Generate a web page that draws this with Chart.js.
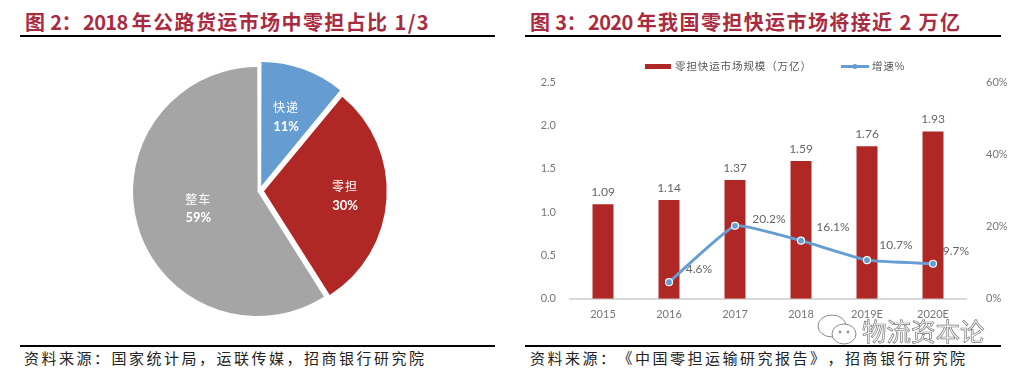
<!DOCTYPE html>
<html><head><meta charset="utf-8">
<script src="https://cdn.jsdelivr.net/npm/chart.js@4"></script>
<style>
html,body{margin:0;padding:0;background:#fff;width:1021px;height:378px;overflow:hidden;font-family:"Noto Sans CJK SC",sans-serif}
.t{position:absolute;white-space:nowrap;text-spacing-trim:space-all;font-kerning:none}
.title{top:8px;font:bold 20px "Noto Sans CJK SC",sans-serif;line-height:28px;color:#a92b40;letter-spacing:1.4px}
.title span{letter-spacing:-.6px}
.src{top:348px;font-size:15px;color:#222;letter-spacing:2.5px;line-height:20px}
.rule{position:absolute;height:2px;background:#000}
canvas{position:absolute}
#wm{position:absolute;left:862px;top:315px;font-size:24.5px;line-height:32px;color:#fff;-webkit-text-stroke:.7px #777}
</style></head><body>
<div class="t title" style="left:25px">图<span> 2</span>：<span>2018 </span>年公路货运市场中零担占比 1/3</div>
<div class="rule" style="left:20px;top:35px;width:475px"></div>
<div class="t title" style="left:530px">图<span> 3</span>：<span>2020 </span>年我国零担快运市场将接近 2 万亿</div>
<div class="rule" style="left:525px;top:35px;width:476px"></div>
<div style="position:absolute;left:0;top:40px;width:510px;height:300px"><canvas id="pie"></canvas></div>
<div style="position:absolute;left:510px;top:40px;width:511px;height:300px"><canvas id="mix"></canvas></div>
<div class="rule" style="left:20px;top:345px;width:475px"></div>
<div class="t src" style="left:24px">资料来源：国家统计局，运联传媒，招商银行研究院</div>
<div class="rule" style="left:525px;top:345px;width:476px"></div>
<div class="t src" style="left:530px">资料来源：《中国零担运输研究报告》，招商银行研究院</div>
<svg style="position:absolute;left:815px;top:312px" width="48" height="36" fill="#fff" stroke="#888" stroke-width="1">
<ellipse cx="17" cy="14" rx="14" ry="11"/><ellipse cx="29" cy="22" rx="12" ry="10"/>
<circle cx="25" cy="20" r="1" fill="#888"/><circle cx="33" cy="20" r="1" fill="#888"/>
</svg>
<div id="wm">物流资本论</div>
<script>
const pieLabels=['快递','零担','整车'];
const pieValues=[11,30,59];
const pieColors=['#659dd2','#b02825','#a5a5a5'];
const years=['2015','2016','2017','2018','2019E','2020E'];
const scaleValues=[1.09,1.14,1.37,1.59,1.76,1.93];
const growthValues=[null,4.6,20.2,16.1,10.7,9.7];
const growthText=[null,'4.6%','20.2%','16.1%','10.7%','9.7%'];
const barName='零担快运市场规模（万亿）';
const lineName='增速%';
const leftTicks=[0,0.5,1,1.5,2,2.5];
const rightTicks=[0,20,40,60];
const FONT='"Noto Sans CJK SC",sans-serif';
const TICK='Lato,"Open Sans",sans-serif';
const GREY='#767676';

new Chart(document.getElementById('pie'),{
 type:'pie',
 data:{labels:pieLabels,datasets:[{data:pieValues,backgroundColor:pieColors,borderWidth:0,offset:[20,18,8]}]},
 options:{responsive:true,maintainAspectRatio:false,animation:false,radius:122.5,
  layout:{padding:{left:126,right:117,top:17,bottom:15}},
  plugins:{legend:{display:false},tooltip:{enabled:false}}},
 plugins:[{id:'pl',afterDatasetsDraw(c){
  const g=c.ctx,m=c.getDatasetMeta(0),k=[0.64,0.70,0.52];
  g.save();g.fillStyle='#fff';g.textAlign='center';g.textBaseline='middle';
  m.data.forEach((a,i)=>{
   const an=(a.startAngle+a.endAngle)/2,r=a.outerRadius*k[i];
   const x=a.x+Math.cos(an)*r,y=a.y+Math.sin(an)*r;
   g.font='12px '+FONT;g.letterSpacing='1px';g.fillText(pieLabels[i],x,y-9.5);
   g.font='bold 13px '+TICK;g.letterSpacing='0px';g.fillText(pieValues[i]+'%',x,y+9.5);
  });
  g.restore();}}]
});

new Chart(document.getElementById('mix'),{
 data:{labels:years,datasets:[
  {type:'line',label:lineName,data:growthValues,yAxisID:'yRight',borderColor:'#659dd2',borderWidth:3,tension:.12,
   pointRadius:3.5,pointBackgroundColor:'#659dd2',pointBorderColor:'#fff',pointBorderWidth:1.2,order:1},
  {type:'bar',label:barName,data:scaleValues,yAxisID:'yLeft',backgroundColor:'#b02825',barPercentage:.318,categoryPercentage:1,order:2}
 ]},
 options:{responsive:true,maintainAspectRatio:false,animation:false,
  layout:{padding:{top:42,bottom:10,left:0,right:0}},
  plugins:{legend:{display:false},tooltip:{enabled:false}},
  scales:{
   x:{grid:{display:false,drawTicks:false},border:{color:'#d9d9d9',width:2},
      ticks:{color:GREY,font:{size:11,family:TICK},padding:9,maxRotation:0}},
   yLeft:{axis:'y',position:'left',min:0,max:2.5,afterBuildTicks(s){s.ticks=leftTicks.map(v=>({value:v}))},
      grid:{display:false},border:{display:false},
      ticks:{color:GREY,font:{size:11,family:TICK},padding:6,callback:v=>v.toFixed(1)},
      afterFit(s){s.width=60}},
   yRight:{axis:'y',position:'right',min:0,max:60,afterBuildTicks(s){s.ticks=rightTicks.map(v=>({value:v}))},
      grid:{display:false},border:{display:false},
      ticks:{color:GREY,font:{size:11,family:TICK},padding:12,callback:v=>v+'%'},
      afterFit(s){s.width=55}}
  }},
 plugins:[{id:'lab',afterDatasetsDraw(c){
  const g=c.ctx,l=c.scales.yLeft,r=c.scales.yRight,x=c.scales.x;
  const off=[null,[30,-13],[34,-7],[32,-14],[29,-15],[23,-13]];
  g.save();g.font='12px '+TICK;g.fillStyle='#666';g.textAlign='center';g.textBaseline='middle';
  scaleValues.forEach((v,i)=>g.fillText(v.toFixed(2),x.getPixelForValue(i),l.getPixelForValue(v)-12));
  growthValues.forEach((v,i)=>{if(v==null)return;
   g.fillText(growthText[i],x.getPixelForValue(i)+off[i][0],r.getPixelForValue(v)+off[i][1]);});
  g.textAlign='left';
  g.fillStyle='#b02825';g.fillRect(135,24,26,5);
  g.font='10.5px '+FONT;g.letterSpacing='0.9px';g.fillStyle='#555';g.fillText(barName,165,26.5);
  g.strokeStyle='#659dd2';g.lineWidth=3;g.beginPath();g.moveTo(331,26.5);g.lineTo(359,26.5);g.stroke();
  g.fillStyle='#659dd2';g.beginPath();g.arc(345,26.5,2.5,0,7);g.fill();
  g.fillStyle='#555';g.fillText(lineName,362,26.5);
  g.restore();}}]
});
</script>
</body></html>
